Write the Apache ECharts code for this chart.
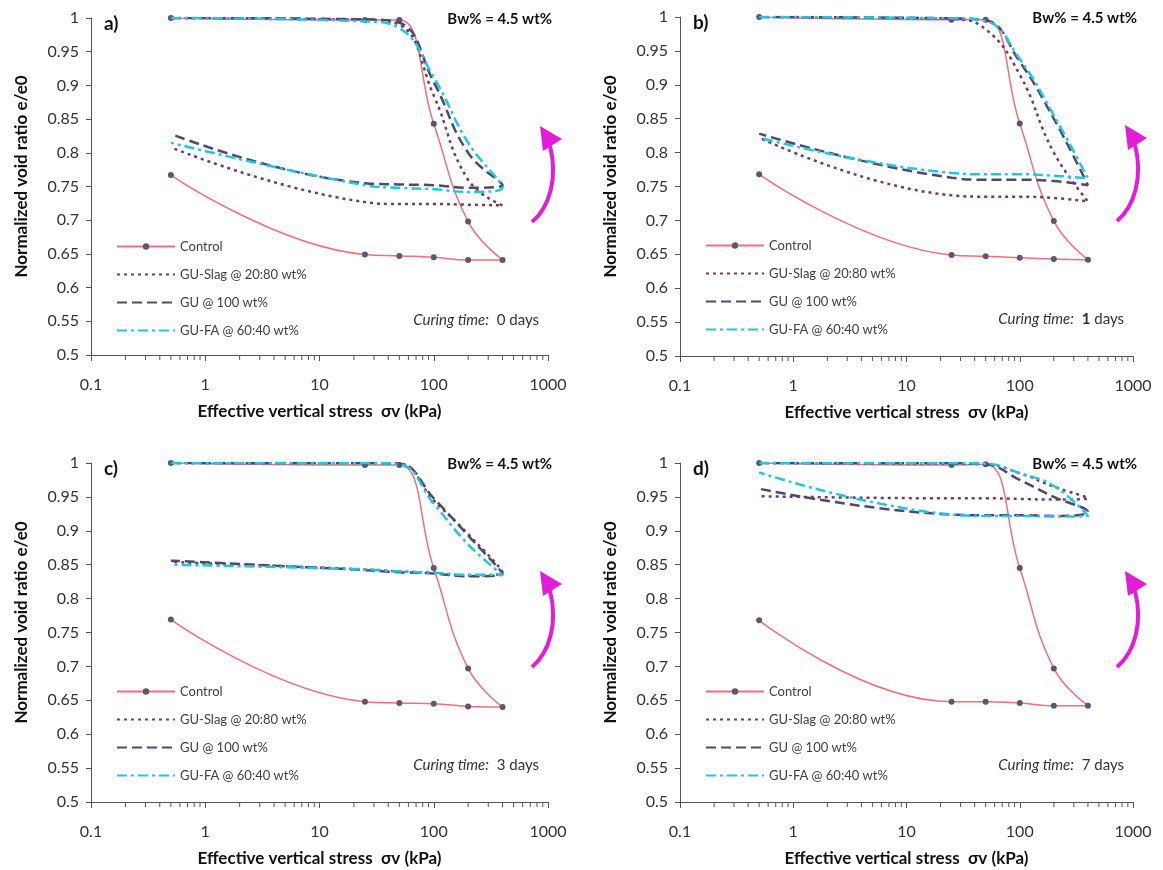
<!DOCTYPE html>
<html>
<head>
<meta charset="utf-8">
<script src="https://cdn.jsdelivr.net/npm/echarts@6/dist/echarts.min.js"></script>
<style>
html, body { margin: 0; padding: 0; background: #fff; }
#chart { width: 1163px; height: 870px; }
</style>
</head>
<body>
<div id="chart"></div>
<script>
// stress path: loading then unloading (kPa)
var stressPath = [0.5, 25, 50, 100, 200, 400, 200, 100, 50, 25, 0.5];
var minorTicks = [0.2, 0.3, 0.4, 0.5, 0.6, 0.7, 0.8, 0.9,
                  2, 3, 4, 5, 6, 7, 8, 9,
                  20, 30, 40, 50, 60, 70, 80, 90,
                  200, 300, 400, 500, 600, 700, 800, 900];
var seriesNames = ['Control', 'GU-Slag @ 20:80 wt%', 'GU @ 100 wt%', 'GU-FA @ 60:40 wt%'];
var panelLetters = ['a)', 'b)', 'c)', 'd)'];
var curingDays = ['0', '1', '3', '7'];

// normalized void ratio e/e0 along stressPath
var controlA = [1.0, 0.997, 0.997, 0.843, 0.698, 0.641, 0.641, 0.645, 0.647, 0.649, 0.767];
var slagA    = [1.0, 0.997, 0.990, 0.885, 0.760, 0.722, 0.723, 0.724, 0.724, 0.727, 0.808];
var guA      = [1.0, 0.998, 0.993, 0.905, 0.800, 0.752, 0.748, 0.752, 0.753, 0.755, 0.828];
var faA      = [1.0, 0.995, 0.985, 0.912, 0.815, 0.748, 0.742, 0.746, 0.748, 0.752, 0.815];

var controlB = [1.0, 0.996, 0.996, 0.843, 0.699, 0.642, 0.643, 0.645, 0.647, 0.649, 0.768];
var slagB    = [1.0, 0.997, 0.982, 0.915, 0.800, 0.728, 0.733, 0.735, 0.735, 0.737, 0.822];
var guB      = [1.0, 0.998, 0.995, 0.934, 0.850, 0.752, 0.758, 0.760, 0.760, 0.763, 0.828];
var faB      = [1.0, 0.998, 0.994, 0.938, 0.855, 0.762, 0.766, 0.768, 0.768, 0.770, 0.822];

var controlC = [1.0, 0.997, 0.997, 0.845, 0.697, 0.640, 0.641, 0.645, 0.646, 0.648, 0.769];
var slagC    = [1.0, 1.0, 0.999, 0.945, 0.895, 0.838, 0.834, 0.838, 0.840, 0.843, 0.854];
var guC      = [1.0, 1.0, 0.999, 0.948, 0.893, 0.836, 0.833, 0.837, 0.839, 0.842, 0.856];
var faC      = [1.0, 1.0, 0.998, 0.940, 0.880, 0.835, 0.835, 0.838, 0.840, 0.843, 0.850];

var controlD = [1.0, 0.997, 0.998, 0.845, 0.697, 0.642, 0.642, 0.646, 0.648, 0.648, 0.768];
var slagD    = [1.0, 0.999, 0.998, 0.985, 0.965, 0.948, 0.946, 0.947, 0.948, 0.948, 0.951];
var guD      = [1.0, 1.0, 0.998, 0.975, 0.950, 0.928, 0.922, 0.923, 0.923, 0.924, 0.962];
var faD      = [1.0, 1.0, 0.999, 0.985, 0.966, 0.922, 0.921, 0.922, 0.922, 0.924, 0.986];

var panelData = [
    [controlA, slagA, guA, faA],
    [controlB, slagB, guB, faB],
    [controlC, slagC, guC, faC],
    [controlD, slagD, guD, faD]
];

// layout of the four panels
var grids = [
    {left: 91,  top: 18,  width: 457, height: 337},
    {left: 680, top: 17,  width: 453, height: 339},
    {left: 91,  top: 463, width: 457, height: 339},
    {left: 680, top: 463, width: 453, height: 339}
];

var FONT = 'Lato, "Open Sans", sans-serif';
var axisColor = '#555';
var magenta = '#e31cd8';

var lineStyles = [
    {color: '#ef6f7c', width: 1.5, type: 'solid'},
    {color: '#6e3f5e', width: 2.5, type: [3, 4]},
    {color: '#4e4a68', width: 2.5, type: [10, 5]},
    {color: '#22c6e2', width: 2.5, type: [10, 4, 3, 4]}
];

function pairs(ys) {
    return stressPath.map(function (s, k) { return [s, ys[k]]; });
}

// small tick mark below the axis at a data position
function renderMinorTick(params, api) {
    var p = api.coord([api.value(0), api.value(1)]);
    return {
        type: 'line',
        shape: {x1: p[0], y1: p[1], x2: p[0], y2: p[1] + 5},
        style: {stroke: axisColor, lineWidth: 1}
    };
}

var xAxes = [], yAxes = [], series = [], legends = [], graphics = [];

grids.forEach(function (g, i) {
    xAxes.push({
        type: 'log', logBase: 10, gridIndex: i, min: 0.1, max: 1000,
        name: 'Effective vertical stress  \u03c3v (kPa)',
        nameLocation: 'middle', nameGap: 48,
        nameTextStyle: {fontFamily: FONT, fontWeight: 'bold', fontSize: 17, color: '#111'},
        axisLine: {lineStyle: {color: axisColor, width: 1}},
        axisTick: {length: 6, lineStyle: {color: axisColor}},
        axisLabel: {fontFamily: FONT, fontSize: 16, color: '#333', margin: 22,
            formatter: function (v) { return String(+v.toPrecision(6)); }},
        splitLine: {show: false}
    });
    yAxes.push({
        type: 'value', gridIndex: i, min: 0.5, max: 1, interval: 0.05,
        name: 'Normalized void ratio e/e0',
        nameLocation: 'middle', nameGap: 61,
        nameTextStyle: {fontFamily: FONT, fontWeight: 'bold', fontSize: 17, color: '#111', padding: [0, 0, 0, 20]},
        axisLine: {show: true, lineStyle: {color: axisColor, width: 1}},
        axisTick: {show: true, length: 5, lineStyle: {color: axisColor}},
        axisLabel: {fontFamily: FONT, fontSize: 16, color: '#333', margin: 12,
            formatter: function (v) { return String(+v.toFixed(2)); }},
        splitLine: {show: false}
    });

    // minor log ticks under the x axis
    series.push({
        type: 'custom', xAxisIndex: i, yAxisIndex: i, silent: true, clip: false,
        renderItem: renderMinorTick, z: 10,
        data: minorTicks.map(function (t) { return [t, 0.5]; })
    });

    panelData[i].forEach(function (ys, k) {
        var s = {
            name: seriesNames[k], type: 'line', xAxisIndex: i, yAxisIndex: i,
            smooth: 0.45, data: pairs(ys), lineStyle: lineStyles[k], z: 2 + k,
            itemStyle: {color: lineStyles[k].color}
        };
        if (k === 0) {
            s.symbol = 'circle';
            s.symbolSize = 6;
            s.itemStyle = {color: '#5e5670'};
        } else {
            s.showSymbol = false;
            s.symbol = 'circle';
        }
        series.push(s);
    });

    legends.push({
        orient: 'vertical', left: g.left + 20, top: g.top + 216,
        itemWidth: 58, itemHeight: 8, itemGap: 13,
        textStyle: {fontFamily: FONT, fontSize: 13, color: '#404040', lineHeight: 15},
        selectedMode: false,
        data: seriesNames.map(function (n, k) {
            return k === 0 ? {name: n} : {name: n, itemStyle: {opacity: 0}};
        })
    });

    var right = g.left + g.width;
    graphics.push({
        type: 'text', x: g.left + 13, y: g.top + 6,
        style: {text: panelLetters[i], font: 'bold 19px ' + FONT, fill: '#111', align: 'left', verticalAlign: 'middle'}
    });
    graphics.push({
        type: 'text', x: right + 4, y: g.top + 1,
        style: {text: 'Bw% = 4.5 wt%', font: 'bold 15px ' + FONT, fill: '#111', align: 'right', verticalAlign: 'middle'}
    });
    graphics.push({
        type: 'text', x: right - 9, y: g.top + 302,
        style: {
            text: '{i|Curing time:}  ' + (i === 1 ? '{b|' + curingDays[i] + '}' : curingDays[i]) + ' days',
            font: '15px ' + FONT, fill: '#333', align: 'right', verticalAlign: 'middle',
            rich: {i: {fontStyle: 'italic', fontSize: 15, fontFamily: FONT, fill: '#333'},
                   b: {fontWeight: 'bold', fontSize: 15, fontFamily: FONT, fill: '#333'}}
        }
    });
    // curved magenta arrow
    var tx = right - 16, ty = g.top + 204;
    graphics.push({
        type: 'bezierCurve',
        shape: {x1: tx, y1: ty, cpx1: tx + 18, cpy1: ty - 15, cpx2: tx + 26, cpy2: ty - 45, x2: tx + 18, y2: ty - 76},
        style: {stroke: magenta, lineWidth: 4, fill: null}
    });
    graphics.push({
        type: 'polygon',
        shape: {points: [[tx + 8, ty - 96], [tx + 30, ty - 83], [tx + 11, ty - 71]]},
        style: {fill: magenta}
    });
});

var myChart = echarts.init(document.getElementById('chart'));
var option = {
    backgroundColor: '#fff',
    animation: false,
    grid: grids,
    xAxis: xAxes,
    yAxis: yAxes,
    legend: legends,
    graphic: graphics,
    series: series
};
myChart.setOption(option, true);
</script>
</body>
</html>
